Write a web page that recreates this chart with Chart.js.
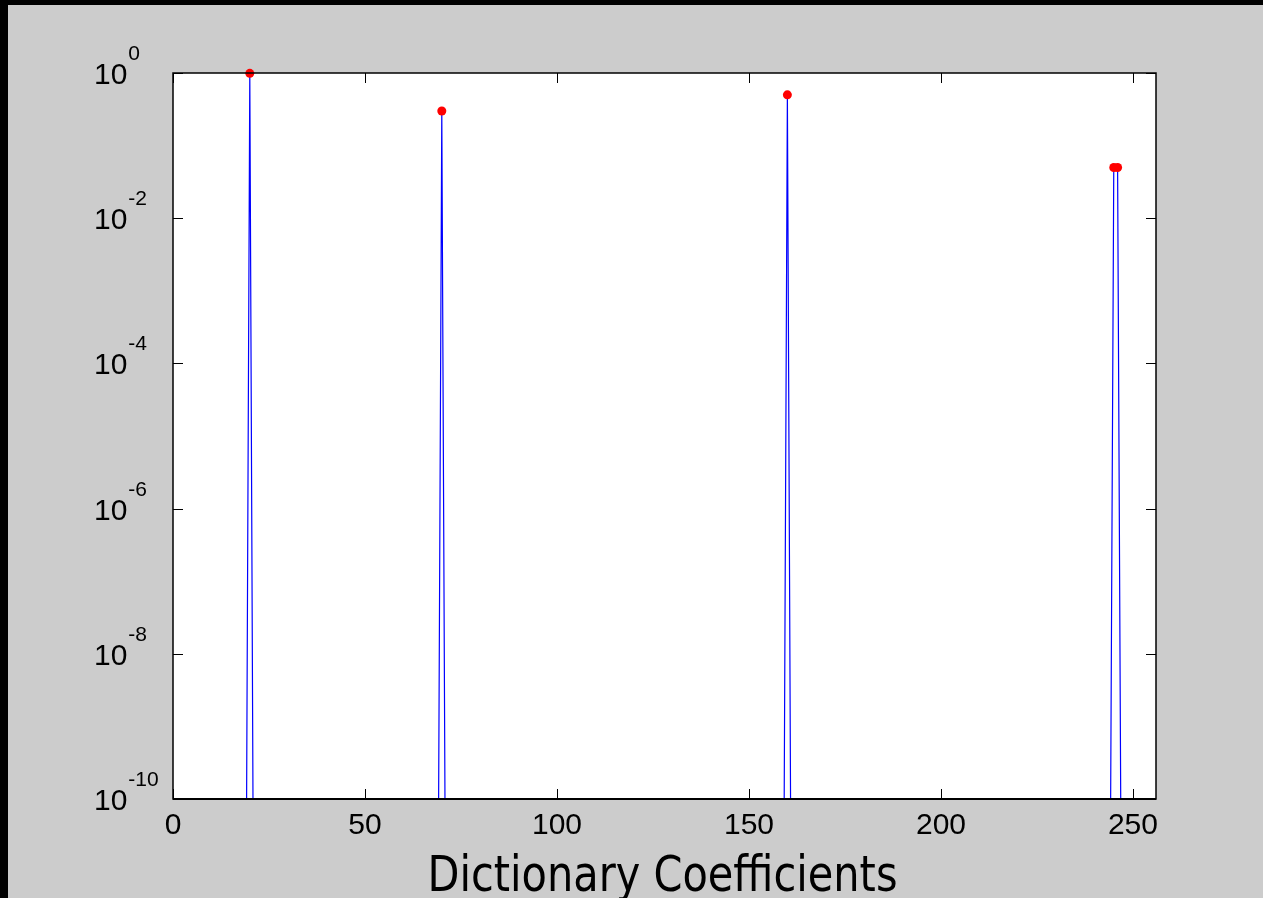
<!DOCTYPE html>
<html>
<head>
<meta charset="utf-8">
<script src="https://cdn.jsdelivr.net/npm/chart.js@4.4.0/dist/chart.umd.min.js"></script>
<style>
  html, body { margin: 0; padding: 0; background: #000; overflow: hidden; }
  canvas { display: block; }
</style>
</head>
<body>
<canvas id="coef-chart" width="1263" height="898"></canvas>
<script>
// coefficient line (sparse: the neighbours of each spike are ~0, below the axis)
const coefIdx = [1, 19, 20, 21, 69, 70, 71, 159, 160, 161, 244, 245, 246, 247, 256];
const coefVal = [1e-12, 1e-12, 1.0, 1e-12, 1e-12, 0.30, 1e-12, 1e-12, 0.50, 1e-12, 1e-12, 0.05, 0.05, 1e-12, 1e-12];

// selected atoms (red dots)
const pickIdx = [20, 70, 160, 245, 246];
const pickVal = [0.99, 0.30, 0.50, 0.05, 0.05];

// axes
const xTicks = [0, 50, 100, 150, 200, 250];
const yExps = [0, -2, -4, -6, -8, -10];
const xTitle = 'Dictionary Coefficients';

const BG = '#cccccc';

// fond gris, bord noir, zone blanche
const backPlugin = {
  id: 'back',
  beforeDraw(chart) {
    const { ctx, chartArea: a } = chart;
    ctx.save();
    ctx.fillStyle = '#000';
    ctx.fillRect(0, 0, chart.width, chart.height);
    ctx.fillStyle = BG;
    ctx.fillRect(8, 5, chart.width - 8, chart.height - 5);
    ctx.fillStyle = '#fff';
    ctx.fillRect(a.left, a.top, a.right - a.left, a.bottom - a.top);
    ctx.restore();
  }
};

// cadre, graduations vers l'interieur, etiquettes
const axesPlugin = {
  id: 'axes',
  afterDraw(chart) {
    const { ctx, chartArea: a } = chart;
    const xs = chart.scales.x;
    const ys = chart.scales.y;
    const tick = 10;
    ctx.save();
    ctx.strokeStyle = '#000';
    ctx.lineWidth = 1;

    // graduations
    ctx.beginPath();
    xTicks.forEach(v => {
      const px = Math.round(xs.getPixelForValue(v)) + 0.5;
      ctx.moveTo(px, a.bottom); ctx.lineTo(px, a.bottom - tick);
      ctx.moveTo(px, a.top); ctx.lineTo(px, a.top + tick);
    });
    yExps.forEach(e => {
      const py = Math.round(ys.getPixelForValue(Math.pow(10, e))) + 0.5;
      ctx.moveTo(a.left, py); ctx.lineTo(a.left + tick, py);
      ctx.moveTo(a.right, py); ctx.lineTo(a.right - tick, py);
    });
    ctx.stroke();

    // cadre
    ctx.lineWidth = 1.5;
    ctx.strokeRect(a.left, a.top, a.right - a.left, a.bottom - a.top);
    ctx.lineWidth = 2;
    ctx.beginPath();
    ctx.moveTo(a.left, a.bottom); ctx.lineTo(a.right, a.bottom);
    ctx.stroke();

    ctx.fillStyle = '#000';
    // etiquettes x
    ctx.font = '30px "Liberation Sans", Arial, sans-serif';
    ctx.textAlign = 'center';
    ctx.textBaseline = 'alphabetic';
    xTicks.forEach(v => {
      ctx.fillText(String(v), xs.getPixelForValue(v), a.bottom + 35);
    });

    // etiquettes y : 10 puis exposant
    ctx.textAlign = 'left';
    yExps.forEach(e => {
      const py = ys.getPixelForValue(Math.pow(10, e));
      ctx.font = '30px "Liberation Sans", Arial, sans-serif';
      ctx.fillText('10', 94, py + 11);
      const w = ctx.measureText('10').width;
      ctx.font = '21px "Liberation Sans", Arial, sans-serif';
      ctx.fillText(String(e), 94 + w + 1, py - 13);
    });

    // titre de l'axe x
    ctx.font = '50px "DejaVu Sans", Verdana, sans-serif';
    const tw = ctx.measureText(xTitle).width;
    const cx = (a.left + a.right) / 2 - 2;
    ctx.translate(cx, a.bottom + 92);
    ctx.scale(470 / tw, 1);
    ctx.textAlign = 'center';
    ctx.fillText(xTitle, 0, 0);
    ctx.restore();
  }
};

const ctx = document.getElementById('coef-chart').getContext('2d');
const chart = new Chart(ctx, {
  type: 'scatter',
  data: {
    datasets: [
      {
        label: 'picked',
        data: pickIdx.map((x, i) => ({ x: x, y: pickVal[i] })),
        backgroundColor: '#ff0000',
        borderWidth: 0,
        pointRadius: 4.5,
        showLine: false,
        clip: false,
        order: 0
      },
      {
        label: 'coefficients',
        data: coefIdx.map((x, i) => ({ x: x, y: coefVal[i] })),
        borderColor: '#0000ff',
        borderWidth: 1.2,
        pointRadius: 0,
        showLine: true,
        tension: 0,
        clip: { left: 0, right: 0, top: 2, bottom: 0 },
        order: 1
      }
    ]
  },
  options: {
    responsive: false,
    animation: false,
    devicePixelRatio: 1,
    layout: { padding: { left: 173, top: 73, right: 107, bottom: 99 } },
    plugins: {
      legend: { display: false },
      tooltip: { enabled: false }
    },
    scales: {
      x: { type: 'linear', min: 0, max: 256, display: false },
      y: { type: 'logarithmic', min: 1e-10, max: 1, display: false }
    }
  },
  plugins: [backPlugin, axesPlugin]
});
</script>
</body>
</html>
